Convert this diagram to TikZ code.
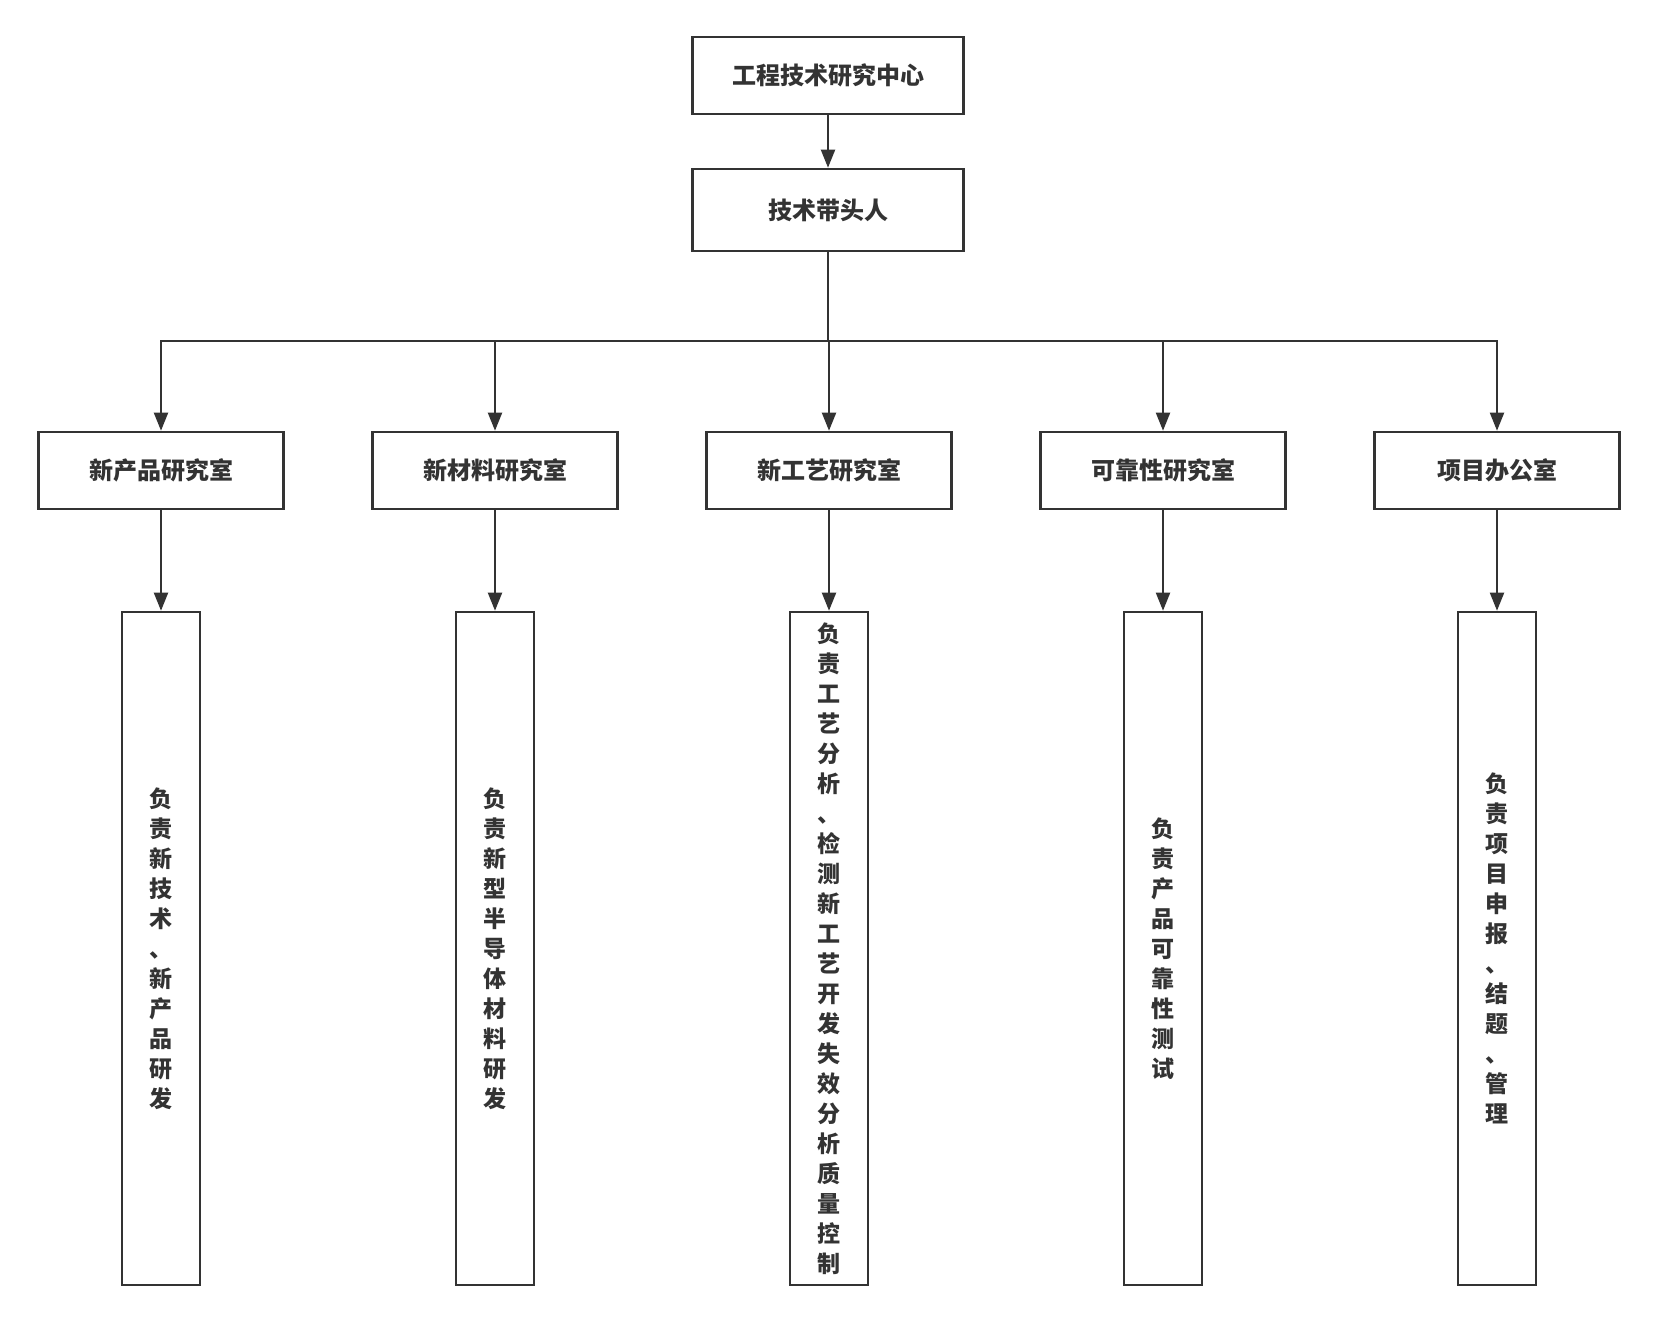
\documentclass[tikz,border=0pt]{standalone}
\usepackage{fontspec}
\setmainfont{Noto Sans CJK SC}
\usetikzlibrary{arrows.meta}
\definecolor{ink}{RGB}{51,51,51}
\begin{document}
\begin{tikzpicture}[x=0.5pt,y=-0.5pt,
  box/.style={draw=ink,line width=1.3pt,fill=white,text=ink,inner sep=0pt,
    font=\bfseries\fontsize{12}{14}\selectfont},
  topbox/.style={box,minimum width=135.75pt,minimum height=38.5pt},
  leadbox/.style={box,minimum width=135.75pt,minimum height=41pt},
  roombox/.style={box,minimum width=122.5pt,minimum height=38.5pt},
  dutybox/.style={draw=ink,line width=1.3pt,fill=white,inner sep=0pt,
    minimum width=39pt,minimum height=336.5pt},
  dutytext/.style={text=ink,align=center,inner sep=0pt,
    font=\bfseries\fontsize{11.5}{15}\selectfont},
  arr/.style={draw=ink,line width=1pt,-{Triangle[length=9pt,width=7pt]}},
  ln/.style={draw=ink,line width=1pt}]
\useasboundingbox (0,0) rectangle (1655,1322);

\node[topbox] (c) at (828,75.5) {工程技术研究中心};
\node[leadbox] (l) at (828,210) {技术带头人};

\node[roombox] (m1) at (161,470.5) {新产品研究室};
\node[roombox] (m2) at (495,470.5) {新材料研究室};
\node[roombox] (m3) at (829,470.5) {新工艺研究室};
\node[roombox] (m4) at (1163,470.5) {可靠性研究室};
\node[roombox] (m5) at (1497,470.5) {项目办公室};

\node[dutybox] (d1) at (161,948.5) {};
\node[dutybox] (d2) at (495,948.5) {};
\node[dutybox] (d3) at (829,948.5) {};
\node[dutybox] (d4) at (1163,948.5) {};
\node[dutybox] (d5) at (1497,948.5) {};

\node[dutytext] (t1) at (d1.center) {负\\责\\新\\技\\术\\、\\新\\产\\品\\研\\发};
\node[dutytext] (t2) at (d2.center) {负\\责\\新\\型\\半\\导\\体\\材\\料\\研\\发};
\node[dutytext] (t3) at (d3.center) {负\\责\\工\\艺\\分\\析\\、\\检\\测\\新\\工\\艺\\开\\发\\失\\效\\分\\析\\质\\量\\控\\制};
\node[dutytext] (t4) at (d4.center) {负\\责\\产\\品\\可\\靠\\性\\测\\试};
\node[dutytext] (t5) at (d5.center) {负\\责\\项\\目\\申\\报\\、\\结\\题\\、\\管\\理};

\coordinate (bus) at (828,341);
\draw[arr] (c) -- (l);
\draw[ln,line width=1.4pt] (l.south) -- (bus);
\foreach \i in {1,...,5}{
  \draw[arr] (bus) -| (m\i.north);
  \draw[arr] (m\i.south) -- (d\i.north);
}
\end{tikzpicture}
\end{document}
